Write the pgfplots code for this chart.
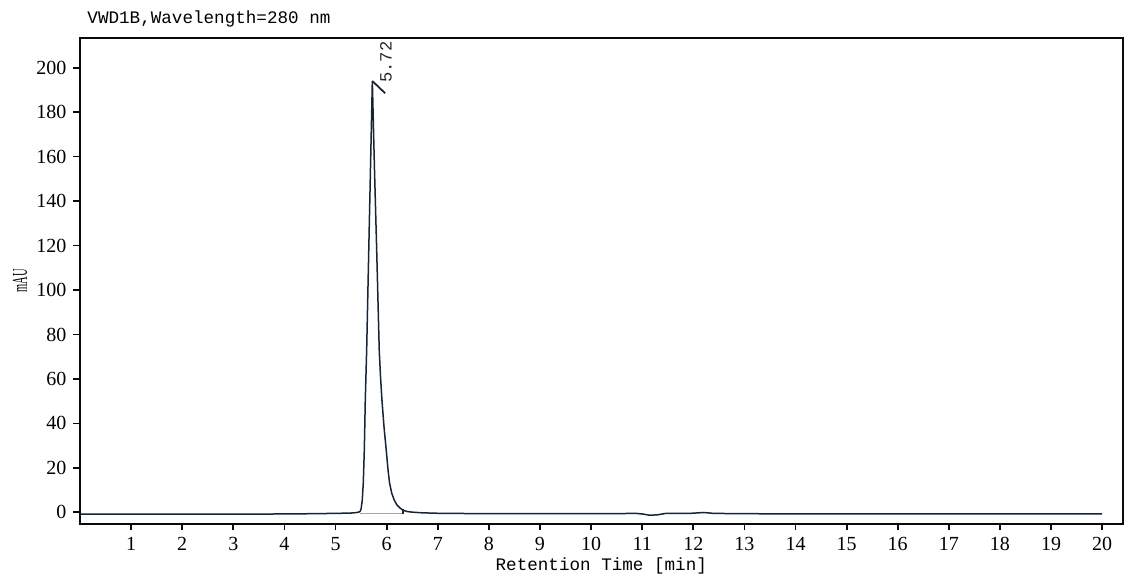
\documentclass[border=0pt]{standalone}
\usepackage{pgfplots}
\pgfplotsset{compat=1.18}
\usepackage{fontspec}
\setmainfont{Liberation Serif}
\newfontfamily\monofont{Liberation Mono}
\definecolor{curve}{RGB}{22,36,52}
\definecolor{axisc}{RGB}{10,10,10}
\begin{document}
\begin{tikzpicture}
\useasboundingbox (-40pt,-30.25pt) rectangle (532.5pt,261.75pt);
\begin{axis}[
  at={(0,0)}, anchor=south west,
  scale only axis, width=521.3pt, height=242.6pt,
  xmin=0, xmax=20.4, ymin=-5, ymax=213.2,
  xtick={1,2,...,20}, ytick={0,20,...,200},
  axis line style={axisc, line width=1pt},
  tick style={axisc, line width=0.9pt},
  tick align=outside, major tick length=3.3pt,
  xtick pos=bottom, ytick pos=left,
  ticklabel style={font=\fontsize{10}{12}\selectfont, text=black},
  /pgf/number format/assume math mode=true,
  xlabel={\monofont\fontsize{8.8}{10}\selectfont Retention Time [min]},
  xlabel style={at={(axis description cs:0.5,-0.087)}, anchor=center},
  ylabel={\fontsize{10.5}{12}\selectfont\scalebox{0.5}[1]{mAU}},
  ylabel style={at={(axis description cs:-0.0576,0.5)}, anchor=center},
  clip=false,
]
\addplot[curve, line width=0.75pt] coordinates {
(0.02,-0.75) (1,-0.75) (2,-0.75) (3,-0.75) (4,-0.72) (4.5,-0.6) (5.0,-0.45)
(5.3,-0.3) (5.4,-0.1) (5.45,0.1) (5.479,0.4) (5.50,1.5) (5.523,5.5)
(5.543,13.2) (5.563,28) (5.582,50.5) (5.609,73) (5.65,118) (5.685,156)
(5.72,194) (5.76,156) (5.805,118) (5.855,73) (5.88,61) (5.908,50.5)
(5.95,38) (5.992,28) (6.025,19.5) (6.057,13.2) (6.10,8.6) (6.149,5.5)
(6.20,3.4) (6.26,2.0) (6.32,1.0) (6.40,0.4) (6.5,0.1) (6.7,-0.2) (7.0,-0.4)
(7.5,-0.5) (8,-0.55) (9,-0.6) (10,-0.6) (10.6,-0.55) (10.85,-0.4)
(11.0,-0.7) (11.15,-1.3) (11.3,-1.1) (11.45,-0.5) (11.6,-0.45) (11.9,-0.5)
(12.2,-0.05) (12.4,-0.45) (13,-0.6) (14,-0.65) (20,-0.65)
};
% integration baseline
\addplot[gray!70, line width=0.6pt] coordinates {(5.48,-0.6) (6.32,-0.6)};
% peak end tick
\addplot[curve, line width=0.6pt] coordinates {(6.32,-0.6) (6.32,1.6)};
% peak label leader
\addplot[curve, line width=0.9pt] coordinates {(5.72,194) (5.97,188.5)};
\node[rotate=90, anchor=west, inner sep=0pt, text=black!85, font=\monofont\fontsize{8.6}{10}\selectfont]
  at (axis cs:5.985,193) {5.72};
\node[anchor=west, inner sep=0pt, font=\monofont\fontsize{8.8}{10}\selectfont]
  at (axis description cs:0.0068,1.04) {VWD1B,Wavelength=280 nm};
\end{axis}
\end{tikzpicture}
\end{document}
